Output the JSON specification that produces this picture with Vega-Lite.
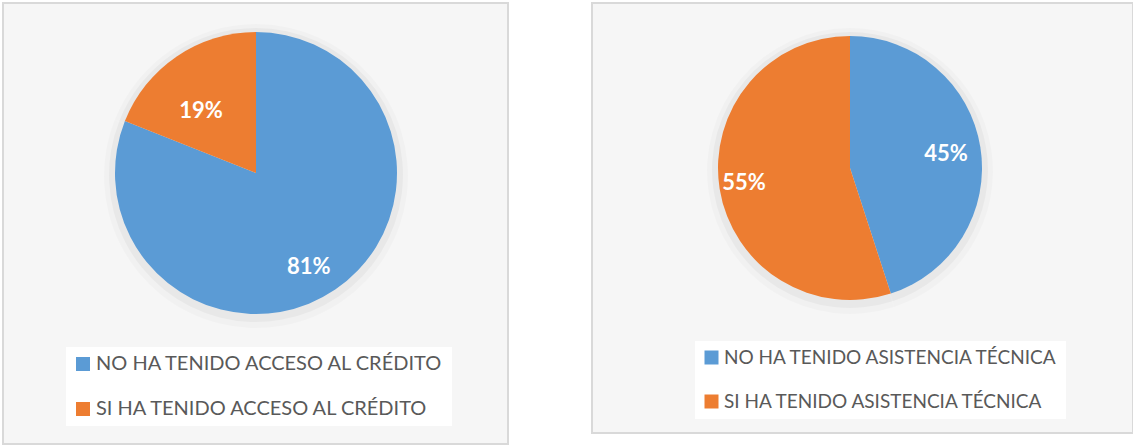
{
  "$schema": "https://vega.github.io/schema/vega-lite/v6.json",
  "padding": {"left": 2, "top": 2, "right": 0, "bottom": 0},
  "background": "#ffffff",
  "spacing": 82,
  "config": {
    "view": {"fill": "#f6f6f6", "stroke": "#d9d9d9", "strokeWidth": 2},
    "font": "Lato",
    "legend": {
      "title": null,
      "orient": "none",
      "fillColor": "#ffffff",
      "padding": 7,
      "symbolType": "square",
      "symbolSize": 196,
      "symbolStrokeWidth": 0,
      "labelFontSize": 20,
      "labelFont": "Lato",
      "labelColor": "#595959",
      "rowPadding": 25,
      "labelOffset": 3,
      "labelLimit": 0
    }
  },
  "resolve": {"scale": {"color": "independent", "theta": "independent"}, "legend": {"color": "independent"}},
  "hconcat": [
    {
      "width": 505,
      "height": 441,
      "view": {"fill": "#f6f6f6", "stroke": "#d9d9d9", "strokeWidth": 2},
      "data": {"values": [
        {"cat": "NO HA TENIDO ACCESO AL CRÉDITO", "value": 0.81, "order": 1},
        {"cat": "SI HA TENIDO ACCESO AL CRÉDITO", "value": 0.19, "order": 2}
      ]},
      "encoding": {
        "theta": {"field": "value", "type": "quantitative", "stack": true},
        "order": {"field": "order", "type": "quantitative"}
      },
      "layer": [
        {"mark": {"type": "arc", "radius": 152, "x": 253, "y": 173, "fill": "#000000", "opacity": 0.02}},
        {"mark": {"type": "arc", "radius": 147, "x": 253, "y": 172, "fill": "#000000", "opacity": 0.035}},
        {
          "mark": {"type": "arc", "radius": 141, "x": 253, "y": 170},
          "encoding": {
            "color": {
              "field": "cat", "type": "nominal",
              "scale": {"domain": ["NO HA TENIDO ACCESO AL CRÉDITO", "SI HA TENIDO ACCESO AL CRÉDITO"], "range": ["#5B9BD5", "#ED7D31"]},
              "legend": {"legendX": 63, "legendY": 344}
            }
          }
        },
        {
          "transform": [{"filter": "datum.order == 1"}],
          "mark": {"type": "text", "x": 253, "y": 170, "radius": 108, "theta": 2.63, "fontWeight": "bold", "fontSize": 22, "fill": "#ffffff", "font": "Lato"},
          "encoding": {
            "theta": null,
            "text": {"field": "value", "type": "quantitative", "format": ".0%"}
          }
        },
        {
          "transform": [{"filter": "datum.order == 2"}],
          "mark": {"type": "text", "x": 253, "y": 170, "radius": 83, "theta": 5.56, "fontWeight": "bold", "fontSize": 22, "fill": "#ffffff", "font": "Lato"},
          "encoding": {
            "theta": null,
            "text": {"field": "value", "type": "quantitative", "format": ".0%"}
          }
        }
      ]
    },
    {
      "width": 541,
      "height": 430,
      "view": {"fill": "#f6f6f6", "stroke": "#d9d9d9", "strokeWidth": 2},
      "data": {"values": [
        {"cat": "NO HA TENIDO ASISTENCIA TÉCNICA", "value": 0.45, "order": 1},
        {"cat": "SI HA TENIDO ASISTENCIA TÉCNICA", "value": 0.55, "order": 2}
      ]},
      "encoding": {
        "theta": {"field": "value", "type": "quantitative", "stack": true},
        "order": {"field": "order", "type": "quantitative"}
      },
      "layer": [
        {"mark": {"type": "arc", "radius": 143, "x": 258, "y": 168, "fill": "#000000", "opacity": 0.02}},
        {"mark": {"type": "arc", "radius": 138, "x": 258, "y": 167, "fill": "#000000", "opacity": 0.035}},
        {
          "mark": {"type": "arc", "radius": 132, "x": 258, "y": 165},
          "encoding": {
            "color": {
              "field": "cat", "type": "nominal",
              "scale": {"domain": ["NO HA TENIDO ASISTENCIA TÉCNICA", "SI HA TENIDO ASISTENCIA TÉCNICA"], "range": ["#5B9BD5", "#ED7D31"]},
              "legend": {"legendX": 103, "legendY": 338, "rowPadding": 24, "labelFontSize": 19}
            }
          }
        },
        {
          "transform": [{"filter": "datum.order == 1"}],
          "mark": {"type": "text", "x": 258, "y": 165, "radius": 97, "theta": 1.43, "fontWeight": "bold", "fontSize": 22, "fill": "#ffffff", "font": "Lato"},
          "encoding": {
            "theta": null,
            "text": {"field": "value", "type": "quantitative", "format": ".0%"}
          }
        },
        {
          "transform": [{"filter": "datum.order == 2"}],
          "mark": {"type": "text", "x": 258, "y": 165, "radius": 107, "theta": 4.57, "fontWeight": "bold", "fontSize": 22, "fill": "#ffffff", "font": "Lato"},
          "encoding": {
            "theta": null,
            "text": {"field": "value", "type": "quantitative", "format": ".0%"}
          }
        }
      ]
    }
  ]
}
